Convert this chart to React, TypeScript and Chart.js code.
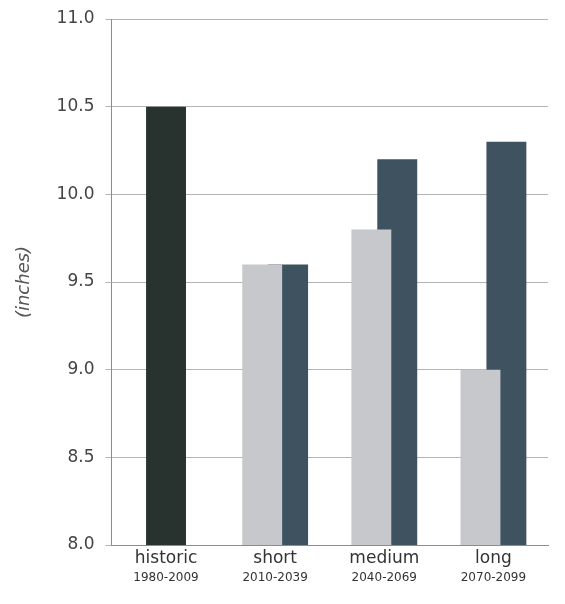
import React, { useEffect, useRef } from "react";
import { Chart, registerables } from "chart.js";

Chart.register(...registerables);

const categories = ["historic", "short", "medium", "long"];
const periods = ["1980-2009", "2010-2039", "2040-2069", "2070-2099"];
const historicValues = [10.5, null, null, null];
const lightValues = [null, 9.6, 9.8, 9.0];
const darkValues = [null, 9.6, 10.2, 10.3];
const yMin = 8.0;
const yMax = 11.0;
const yStep = 0.5;

const FONT = "'DejaVu Sans', sans-serif";

export default function App() {
  const ref = useRef<HTMLCanvasElement | null>(null);

  useEffect(() => {
    if (!ref.current) return;
    const chart = new Chart(ref.current, {
      type: "bar",
      data: {
        labels: categories,
        datasets: [
          {
            label: "historic",
            data: historicValues,
            backgroundColor: "#28322f",
            categoryPercentage: 0.475,
            barPercentage: 0.77,
          },
          {
            label: "light",
            data: lightValues,
            backgroundColor: "#c6c8cb",
            categoryPercentage: 0.475,
            barPercentage: 1.54,
          },
          {
            label: "dark",
            data: darkValues,
            backgroundColor: "#3f5260",
            categoryPercentage: 0.475,
            barPercentage: 1.54,
          },
        ],
      },
      options: {
        animation: false,
        responsive: true,
        maintainAspectRatio: false,
        skipNull: true,
        layout: { padding: { top: 11, right: 9, left: 4, bottom: 12 } },
        plugins: { legend: { display: false }, tooltip: { enabled: false } },
        scales: {
          x: {
            type: "category",
            position: "bottom",
            grid: { display: false, drawTicks: false },
            border: { display: true, color: "#8c8c8c", width: 1 },
            ticks: { color: "#333", font: { family: FONT, size: 17, lineHeight: 1.0 }, padding: 5, maxRotation: 0 },
          },
          x2: {
            type: "category",
            position: "bottom",
            labels: periods,
            offset: true,
            grid: { display: false, drawTicks: false },
            border: { display: false },
            ticks: { color: "#333", font: { family: FONT, size: 12, lineHeight: 1.0 }, padding: 0, maxRotation: 0 },
          },
          y: {
            min: yMin,
            max: yMax,
            grid: { color: "#b5b5b5", lineWidth: 1, tickLength: 6, drawTicks: true },
            border: { display: true, color: "#8c8c8c", width: 1 },
            afterFit: (scale: any) => {
              scale.paddingTop = 0;
              scale.paddingBottom = 0;
            },
            ticks: {
              stepSize: yStep,
              color: "#444",
              font: { family: FONT, size: 17 },
              padding: 11,
              callback: (v: any) => Number(v).toFixed(1),
            },
            title: {
              display: true,
              text: "(inches)",
              color: "#555",
              font: { family: FONT, size: 18, style: "italic" },
              padding: { top: 2, bottom: 10 },
            },
          },
        },
      } as any,
    });
    return () => chart.destroy();
  }, []);

  return (
    <div style={{ width: 549, height: 588 }}>
      <canvas ref={ref} />
    </div>
  );
}
